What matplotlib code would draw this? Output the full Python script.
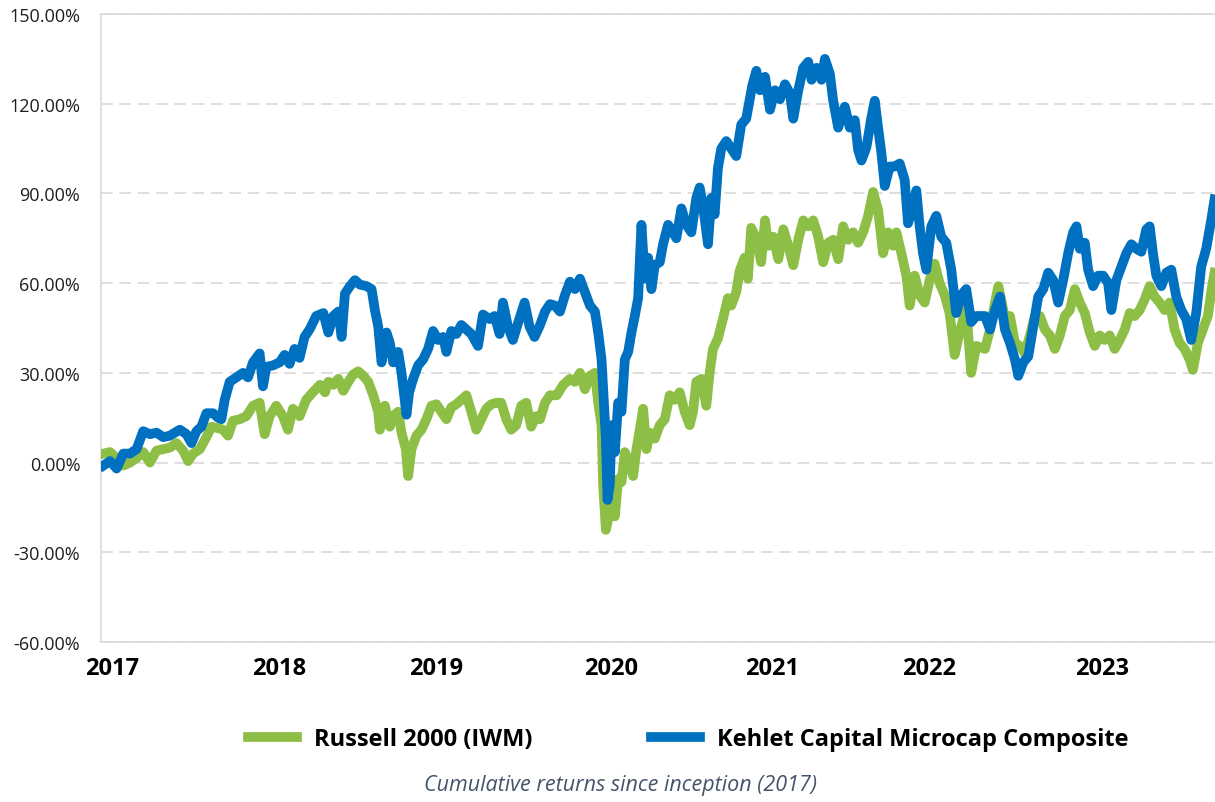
import matplotlib.pyplot as plt
from matplotlib.ticker import FuncFormatter

# fractional years (x) and cumulative return in % (y)
kehlet_t = [
    2016.948, 2016.988, 2017.028, 2017.068, 2017.108, 2017.148, 2017.188, 2017.228, 2017.268, 2017.308,
    2017.348, 2017.408, 2017.448, 2017.478, 2017.508, 2017.538, 2017.568, 2017.608, 2017.638, 2017.658,
    2017.678, 2017.708, 2017.748, 2017.788, 2017.818, 2017.848, 2017.888, 2017.908, 2017.928, 2017.968,
    2018.008, 2018.038, 2018.068, 2018.098, 2018.128, 2018.158, 2018.188, 2018.228,
    2018.271, 2018.301, 2018.331, 2018.361, 2018.381, 2018.401, 2018.431, 2018.461, 2018.491, 2018.531,
    2018.561, 2018.581, 2018.601, 2018.621, 2018.651, 2018.671, 2018.691, 2018.721, 2018.741, 2018.771,
    2018.787, 2018.811, 2018.841, 2018.871, 2018.901, 2018.931, 2018.961, 2018.991, 2019.011, 2019.041,
    2019.071, 2019.101, 2019.131, 2019.161, 2019.201, 2019.231, 2019.271, 2019.301, 2019.331, 2019.351,
    2019.381, 2019.411, 2019.441, 2019.481, 2019.511, 2019.541,
    2019.574, 2019.604, 2019.634, 2019.664, 2019.694, 2019.724, 2019.754, 2019.784, 2019.814, 2019.844,
    2019.874, 2019.904, 2019.924, 2019.944, 2019.958, 2019.970, 2019.980, 2019.994, 2020.004, 2020.024,
    2020.044, 2020.064, 2020.084, 2020.104, 2020.124, 2020.144, 2020.164, 2020.184, 2020.204, 2020.224,
    2020.244, 2020.264, 2020.294, 2020.314, 2020.344, 2020.374, 2020.394, 2020.424, 2020.454, 2020.484,
    2020.514, 2020.534, 2020.554, 2020.584, 2020.604, 2020.624, 2020.644, 2020.664, 2020.694, 2020.724,
    2020.754, 2020.784, 2020.814, 2020.850, 2020.875,
    2020.897, 2020.927, 2020.957, 2020.987, 2021.017, 2021.047, 2021.077, 2021.097, 2021.127, 2021.157,
    2021.187, 2021.207, 2021.237, 2021.267, 2021.287, 2021.317, 2021.337, 2021.367, 2021.407, 2021.437,
    2021.467, 2021.487, 2021.507, 2021.537, 2021.567, 2021.587, 2021.607, 2021.627, 2021.647, 2021.677,
    2021.707, 2021.737, 2021.767, 2021.787, 2021.817, 2021.837, 2021.857, 2021.877, 2021.897, 2021.927,
    2021.957, 2021.987, 2022.017, 2022.047, 2022.077, 2022.107, 2022.137, 2022.167, 2022.197,
    2022.250, 2022.280, 2022.310, 2022.340, 2022.370, 2022.400, 2022.430, 2022.450, 2022.480, 2022.510,
    2022.540, 2022.570, 2022.600, 2022.630, 2022.660, 2022.690, 2022.720, 2022.750, 2022.780, 2022.800,
    2022.820, 2022.850, 2022.870, 2022.900, 2022.930, 2022.960, 2022.990, 2023.010, 2023.040, 2023.070,
    2023.100, 2023.130, 2023.160, 2023.190, 2023.220, 2023.240, 2023.260, 2023.280, 2023.310, 2023.340,
    2023.370, 2023.400, 2023.430, 2023.460, 2023.490, 2023.520, 2023.550, 2023.580, 2023.610, 2023.630,
]
kehlet_ret = [
    -1, 0.5, -2, 3, 3, 4.5, 10.5, 9.5, 10, 8.5,
    9, 11, 9.5, 6.5, 10.5, 12, 16.5, 16.5, 15, 14.5,
    21, 27, 28.5, 30, 28.5, 33.5, 36.5, 25.5, 32, 32.5,
    33.5, 36, 33, 38, 35, 42, 44.5, 49,
    50, 43.5, 49, 50.5, 42, 56.5, 59, 61, 59.5, 59,
    58, 51, 45.5, 33.5, 43.5, 40, 33.5, 37, 30, 16,
    23.5, 28, 32.5, 34.5, 38, 44, 41, 42, 37, 44,
    43, 46, 44.5, 43, 39, 49.5, 48, 49, 43, 53.5,
    45.5, 41, 46.5, 53.5, 45.5, 42,
    46, 50.5, 53, 52.5, 50.5, 56, 60.5, 58, 61.5, 57,
    52.5, 50.5, 43.5, 34.5, 20, 8, -12.5, -7, 12.5, 3.5,
    20, 17, 34.5, 37, 43.5, 49, 55, 79.5, 61.5, 68.5,
    58, 66, 67, 73, 79.5, 77, 75, 85, 79.5, 77,
    88.5, 92, 86, 73, 88.5, 83, 98.5, 105, 107.5, 105,
    102.5, 113, 115, 126, 131,
    124.5, 129, 118, 124.5, 121.5, 126.5, 123.5, 115, 124.5, 132,
    134, 128, 132, 128, 135, 130, 121, 112, 119, 112,
    114.5, 104.5, 101, 105.5, 115.5, 121, 112, 103.5, 92.5, 99,
    99, 100, 94.5, 80, 85.5, 91, 79, 70, 64.5, 79,
    82.5, 75.5, 73.5, 64.5, 50, 56, 58, 47, 49,
    49, 44.5, 51, 55.5, 44.5, 40, 34.5, 29, 33.5, 35.5,
    45.5, 55.5, 58, 63.5, 61, 53.5, 61, 70, 77, 79,
    71.5, 73.5, 64.5, 59, 62.5, 62.5, 60, 51, 61, 65.5,
    70, 73, 71.5, 70.5, 78, 79, 70, 62.5, 59, 63.5,
    64.5, 55.5, 51, 48, 41, 50, 65.5, 71.5, 81, 88,
]

russell_t = [
    2016.948, 2016.988, 2017.028, 2017.068, 2017.108, 2017.148, 2017.188, 2017.228, 2017.268, 2017.308,
    2017.348, 2017.388, 2017.428, 2017.458, 2017.488, 2017.528, 2017.568, 2017.598, 2017.638, 2017.668,
    2017.698, 2017.728, 2017.768, 2017.808, 2017.848, 2017.888, 2017.918, 2017.948, 2017.988, 2018.028,
    2018.058, 2018.088, 2018.128, 2018.168, 2018.208,
    2018.251, 2018.281, 2018.301, 2018.331, 2018.361, 2018.391, 2018.421, 2018.451, 2018.481, 2018.511,
    2018.541, 2018.571, 2018.601, 2018.611, 2018.641, 2018.671, 2018.691, 2018.721, 2018.741, 2018.767,
    2018.781, 2018.801, 2018.831, 2018.861, 2018.891, 2018.921, 2018.951, 2018.981, 2019.011, 2019.041,
    2019.071, 2019.101, 2019.131, 2019.161, 2019.191, 2019.221, 2019.251, 2019.281, 2019.311, 2019.341,
    2019.371, 2019.401, 2019.431, 2019.461, 2019.491, 2019.521, 2019.551,
    2019.574, 2019.604, 2019.634, 2019.674, 2019.714, 2019.754, 2019.784, 2019.814, 2019.844, 2019.874,
    2019.904, 2019.924, 2019.944, 2019.954, 2019.970, 2019.984, 2020.004, 2020.024, 2020.044, 2020.064,
    2020.084, 2020.104, 2020.134, 2020.154, 2020.174, 2020.194, 2020.214, 2020.234, 2020.264, 2020.294,
    2020.324, 2020.354, 2020.384, 2020.414, 2020.444, 2020.474, 2020.494, 2020.514, 2020.544, 2020.574,
    2020.594, 2020.614, 2020.644, 2020.674, 2020.704, 2020.724, 2020.754, 2020.774, 2020.804, 2020.824,
    2020.844, 2020.874, 2020.904,
    2020.927, 2020.947, 2020.977, 2021.007, 2021.037, 2021.067, 2021.097, 2021.127, 2021.157, 2021.187,
    2021.217, 2021.247, 2021.277, 2021.307, 2021.337, 2021.367, 2021.397, 2021.427, 2021.457, 2021.487,
    2021.517, 2021.547, 2021.577, 2021.607, 2021.637, 2021.667, 2021.697, 2021.717, 2021.747, 2021.777,
    2021.797, 2021.827, 2021.857, 2021.887, 2021.917, 2021.947, 2021.977, 2022.007, 2022.037, 2022.067,
    2022.097, 2022.137, 2022.167, 2022.197,
    2022.250, 2022.280, 2022.310, 2022.330, 2022.360, 2022.380, 2022.400, 2022.430, 2022.460, 2022.490,
    2022.520, 2022.550, 2022.580, 2022.610, 2022.640, 2022.670, 2022.700, 2022.730, 2022.760, 2022.790,
    2022.820, 2022.850, 2022.880, 2022.910, 2022.940, 2022.970, 2023.000, 2023.030, 2023.060, 2023.090,
    2023.120, 2023.150, 2023.180, 2023.210, 2023.240, 2023.270, 2023.300, 2023.330, 2023.360, 2023.390,
    2023.420, 2023.450, 2023.480, 2023.500, 2023.530, 2023.560, 2023.590, 2023.610, 2023.630,
]
russell_ret = [
    3, 3.5, 1.5, -1, 0, 1.5, 3.5, 0, 4, 4.5,
    5, 6.5, 4, 0.5, 3, 4.5, 8.5, 12, 11.5, 11,
    9, 14, 14.5, 15.5, 19, 20, 9.5, 15.5, 19, 15.5,
    11, 18, 15.5, 21, 23.5,
    26, 23.5, 27, 26, 28, 24, 27, 29.5, 30.5, 29,
    27, 22.5, 17, 11, 19, 12, 15.5, 17, 10, 4.5,
    -4.5, 4.5, 9, 11, 14.5, 19, 19.5, 17, 14.5, 18.5,
    19.5, 21, 22.5, 17, 11, 14.5, 18, 19.5, 20, 20,
    14.5, 11, 12.5, 19, 20, 12, 15.5,
    14.5, 20, 22.5, 22.5, 26, 28, 27, 30, 24.5, 29,
    30, 20, 12.5, -8, -22.5, -19, -13.5, -18, -5.5, -6.5,
    3.5, 1, -4.5, 4.5, 11, 18, 4.5, 10, 8, 12.5,
    14.5, 22.5, 21, 23.5, 17, 12.5, 17, 27, 28, 19,
    30, 38, 41.5, 48, 55, 52.5, 57, 64, 68.5, 61.5,
    78.5, 75, 67,
    81, 72.5, 75.5, 68, 78, 72.5, 66, 74.5, 81, 79,
    81, 75.5, 67, 73.5, 74.5, 68, 79, 74.5, 77, 73.5,
    77, 82.5, 90.5, 84.5, 70, 77, 72.5, 77, 70, 62.5,
    52.5, 62.5, 56, 53.5, 61, 66.5, 60, 56, 50, 36,
    43.5, 51.5, 30, 39,
    38, 44.5, 53.5, 59, 51, 43.5, 49, 40, 39, 36.5,
    42.5, 49, 49, 44.5, 42.5, 38, 42.5, 49, 51, 58,
    53.5, 50, 43.5, 39, 42.5, 41, 42.5, 38, 41, 44.5,
    50, 49, 51, 54.5, 59, 55.5, 53.5, 51, 53.5, 44.5,
    40, 38, 34.5, 31, 40, 44.5, 49, 57, 63.5,
]

year_labels = ['2017', '2018', '2019', '2020', '2021', '2022', '2023']
year_tick_pos = [2017.0, 2018.007, 2018.948, 2020.001, 2020.972, 2021.916, 2022.956]
y_ticks = [-60, -30, 0, 30, 60, 90, 120, 150]

plt.rcParams['font.family'] = ['Open Sans', 'DejaVu Sans']

fig = plt.figure(figsize=(12.15, 8.03), dpi=100)
ax = fig.add_axes([101/1215, 160/803, 1114/1215, 628/803])

ax.plot(russell_t, russell_ret, color='#8DBE46', lw=7, label='Russell 2000 (IWM)', zorder=3)
ax.plot(kehlet_t, kehlet_ret, color='#0070C0', lw=7, label='Kehlet Capital Microcap Composite', zorder=4)

ax.set_xlim(2016.934, 2023.633)
ax.set_ylim(-60, 150)
ax.set_yticks(y_ticks)
ax.yaxis.set_major_formatter(FuncFormatter(lambda v, p: f'{v:.2f}%'))
ax.set_xticks(year_tick_pos)
ax.set_xticklabels(year_labels)

ax.grid(axis='y', color='#D9D9D9', linestyle=(0, (7, 4)), linewidth=1.2, zorder=0)
for s in ['left', 'top', 'bottom']:
    ax.spines[s].set_color('#D9D9D9')
    ax.spines[s].set_linewidth(1.2)
ax.spines['right'].set_visible(False)

ax.tick_params(axis='both', length=0)
ax.tick_params(axis='y', pad=15, labelsize=13, labelcolor='#1F1F1F')
ax.tick_params(axis='x', pad=10, labelsize=17, labelcolor='#000000')
for lab in ax.get_xticklabels():
    lab.set_fontweight('bold')

leg = fig.legend(loc='center', bbox_to_anchor=(688/1215, 1 - 740/803), ncol=2, frameon=False,
                 fontsize=17, handlelength=2.1, handletextpad=0.7, columnspacing=5.0)
for t in leg.get_texts():
    t.set_fontweight('bold')
for h in leg.legend_handles:
    h.set_linewidth(7)

fig.text(620/1215, 1 - 786/803, 'Cumulative returns since inception (2017)', ha='center', va='center',
         fontsize=15.5, style='italic', color='#44546A')

fig.savefig('out.png', dpi=100)
